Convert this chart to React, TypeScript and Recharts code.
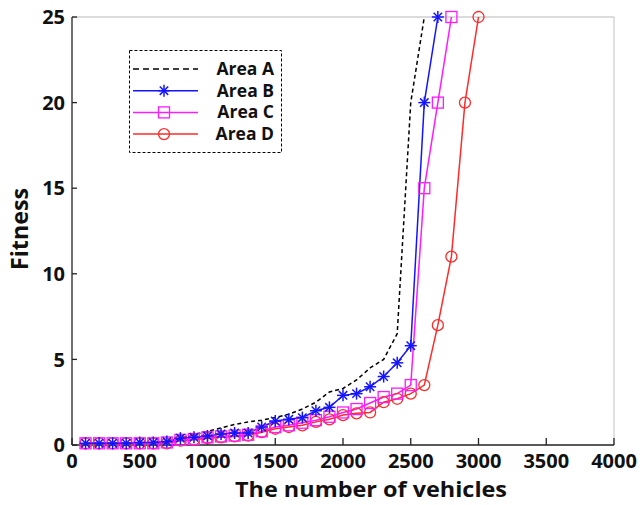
import { LineChart, Line, XAxis, YAxis, ReferenceLine, Label } from 'recharts';

const vehicles = [100, 200, 300, 400, 500, 600, 700, 800, 900, 1000, 1100, 1200, 1300, 1400, 1500, 1600, 1700, 1800, 1900, 2000, 2100, 2200, 2300, 2400, 2500, 2600, 2700, 2800, 2900, 3000];

const areaA = [0.1, 0.1, 0.1, 0.1, 0.1, 0.15, 0.2, 0.4, 0.6, 0.8, 1.0, 1.2, 1.35, 1.45, 1.6, 1.8, 2.1, 2.5, 3.1, 3.3, 3.8, 4.5, 5.0, 6.5, 20, 25];
const areaB = [0.1, 0.1, 0.1, 0.1, 0.15, 0.15, 0.2, 0.4, 0.45, 0.53, 0.64, 0.7, 0.7, 1.05, 1.4, 1.5, 1.6, 2.0, 2.2, 2.9, 3.0, 3.4, 4.0, 4.8, 5.8, 20, 25];
const areaC = [0.1, 0.1, 0.1, 0.1, 0.1, 0.1, 0.15, 0.3, 0.35, 0.45, 0.5, 0.55, 0.6, 0.8, 1.05, 1.15, 1.3, 1.45, 1.65, 1.9, 2.1, 2.45, 2.8, 3.0, 3.5, 15, 20, 25];
const areaD = [0.1, 0.1, 0.1, 0.1, 0.1, 0.1, 0.1, 0.25, 0.3, 0.4, 0.45, 0.5, 0.55, 0.75, 0.95, 1.05, 1.15, 1.35, 1.5, 1.75, 1.85, 1.9, 2.5, 2.7, 3.0, 3.5, 7, 11, 20, 25];

const xTicks = [0, 500, 1000, 1500, 2000, 2500, 3000, 3500, 4000];
const yTicks = [0, 5, 10, 15, 20, 25];

const data = vehicles.map((v, i) => ({
	vehicles: v,
	a: areaA[i],
	b: areaB[i],
	c: areaC[i],
	d: areaD[i],
}));

const FONT = '"Open Sans", "DejaVu Sans", sans-serif';
const BLUE = '#1414ff';
const MAGENTA = '#ff1aff';
const RED = '#ff2a2a';

const StarDot = (props: any) => {
	const { cx, cy } = props;
	if (cx == null || cy == null) return null;
	const r = 6;
	const d = 4.2;
	return (
		<g stroke={BLUE} strokeWidth={1.5}>
			<line x1={cx - r} y1={cy} x2={cx + r} y2={cy} />
			<line x1={cx} y1={cy - r} x2={cx} y2={cy + r} />
			<line x1={cx - d} y1={cy - d} x2={cx + d} y2={cy + d} />
			<line x1={cx - d} y1={cy + d} x2={cx + d} y2={cy - d} />
		</g>
	);
};

const SquareDot = (props: any) => {
	const { cx, cy } = props;
	if (cx == null || cy == null) return null;
	return <rect x={cx - 5.5} y={cy - 5.5} width={11} height={11} fill="none" stroke={MAGENTA} strokeWidth={1.3} />;
};

const CircleDot = (props: any) => {
	const { cx, cy } = props;
	if (cx == null || cy == null) return null;
	return <circle cx={cx} cy={cy} r={5.5} fill="none" stroke={RED} strokeWidth={1.3} />;
};

const legendItems = [
	{ name: 'Area A', color: '#000', dash: '6 4', marker: null },
	{ name: 'Area B', color: BLUE, dash: undefined, marker: StarDot },
	{ name: 'Area C', color: MAGENTA, dash: undefined, marker: SquareDot },
	{ name: 'Area D', color: RED, dash: undefined, marker: CircleDot },
];

const LegendBox = () => (
	<svg width={153} height={103} style={{ position: 'absolute', left: 129, top: 50, display: 'block' }}>
		<rect x={0.5} y={0.5} width={152} height={102} fill="#fff" stroke="#000" strokeWidth={1} strokeDasharray="3 2" />
		{legendItems.map((it, i) => {
			const y = 19 + i * 21.7;
			const M = it.marker;
			return (
				<g key={it.name}>
					<line x1={4} y1={y} x2={69} y2={y} stroke={it.color} strokeWidth={1.5} strokeDasharray={it.dash} />
					{M && <M cx={35} cy={y} />}
					<text x={145} y={y + 6} textAnchor="end" fontFamily={FONT} fontWeight={700} fontSize={17.5} fill="#111">
						{it.name}
					</text>
				</g>
			);
		})}
	</svg>
);

export default function App() {
	return (
		<div style={{ position: 'absolute', left: 0, top: 0, width: 644, height: 505, background: '#fff' }}>
			<LineChart width={644} height={505} data={data} margin={{ top: 17, right: 30, bottom: 0, left: 0 }}>
				<XAxis
					dataKey="vehicles"
					type="number"
					domain={[0, 4000]}
					ticks={xTicks}
					height={60}
					interval={0}
					tickSize={-7}
					tickMargin={16}
					axisLine={{ stroke: '#222', strokeWidth: 1.3 }}
					tickLine={{ stroke: '#222', strokeWidth: 1.3 }}
					tick={{ fill: '#111', fontFamily: FONT, fontWeight: 700, fontSize: 20 }}
				>
					<Label
						content={({ viewBox }: any) => (
							<text
								x={viewBox.x + viewBox.width / 2 + 28}
								y={viewBox.y + 52}
								textAnchor="middle"
								fontFamily={FONT}
								fontWeight={700}
								fontSize={22}
								textLength={272}
								lengthAdjust="spacingAndGlyphs"
								fill="#111"
							>
								The number of vehicles
							</text>
						)}
					/>
				</XAxis>
				<YAxis
					type="number"
					domain={[0, 25]}
					ticks={yTicks}
					width={72}
					interval={0}
					tickSize={-5}
					tickMargin={12}
					axisLine={{ stroke: '#222', strokeWidth: 1.3 }}
					tickLine={{ stroke: '#222', strokeWidth: 1.3 }}
					tick={{ fill: '#111', fontFamily: FONT, fontWeight: 700, fontSize: 20 }}
				>
					<Label
						content={({ viewBox }: any) => {
							const x = 28;
							const y = viewBox.y + viewBox.height / 2 - 2;
							return (
								<text
									x={x}
									y={y}
									textAnchor="middle"
									transform={`rotate(-90 ${x} ${y})`}
									fontFamily={FONT}
									fontWeight={700}
									fontSize={24}
									textLength={82}
									lengthAdjust="spacingAndGlyphs"
									fill="#111"
								>
									Fitness
								</text>
							);
						}}
					/>
				</YAxis>
				<ReferenceLine y={25} stroke="#cfcfcf" strokeWidth={1.3} />
				<ReferenceLine x={4000} stroke="#cfcfcf" strokeWidth={1.3} />
				<Line type="linear" dataKey="a" stroke="#000" strokeWidth={1.5} strokeDasharray="4 3" dot={false} isAnimationActive={false} />
				<Line type="linear" dataKey="d" stroke={RED} strokeWidth={1.5} dot={<CircleDot />} activeDot={false} isAnimationActive={false} />
				<Line type="linear" dataKey="c" stroke={MAGENTA} strokeWidth={1.5} dot={<SquareDot />} activeDot={false} isAnimationActive={false} />
				<Line type="linear" dataKey="b" stroke={BLUE} strokeWidth={1.5} dot={<StarDot />} activeDot={false} isAnimationActive={false} />
			</LineChart>
			<LegendBox />
		</div>
	);
}
